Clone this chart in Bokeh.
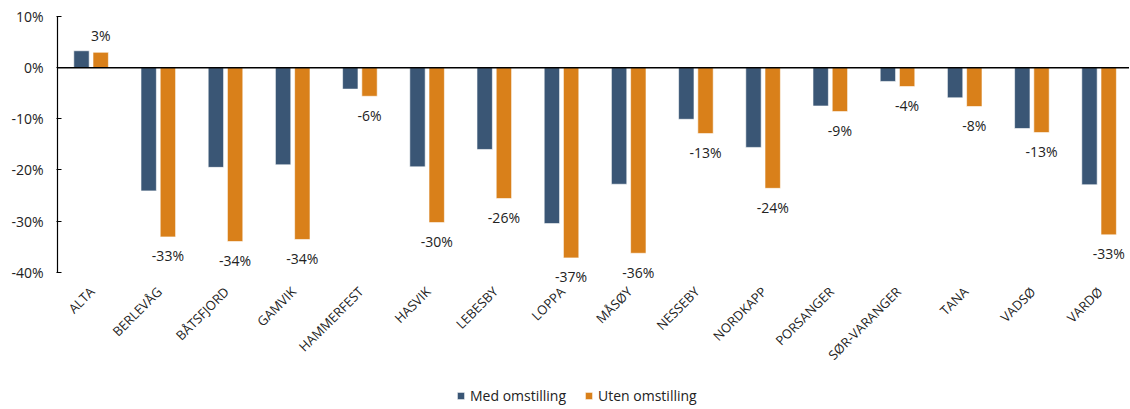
import numpy as np
from bokeh.plotting import figure
from bokeh.models import (ColumnDataSource, Range1d, FixedTicker, Span, Legend,
                          LegendItem, PrintfTickFormatter)
from bokeh.embed import file_html
from bokeh.resources import INLINE
from bokeh.core.properties import value

categories = ["ALTA", "BERLEVÅG", "BÅTSFJORD", "GAMVIK", "HAMMERFEST", "HASVIK",
              "LEBESBY", "LOPPA", "MÅSØY", "NESSEBY", "NORDKAPP", "PORSANGER",
              "SØR-VARANGER", "TANA", "VADSØ", "VARDØ"]
med_omstilling = [3.3, -24.1, -19.5, -19.0, -4.2, -19.4, -16.0, -30.5, -22.8,
                  -10.1, -15.6, -7.5, -2.7, -5.9, -11.9, -22.9]
uten_omstilling = [3.0, -33.1, -34.0, -33.6, -5.6, -30.3, -25.6, -37.2, -36.3,
                   -12.9, -23.6, -8.6, -3.7, -7.6, -12.7, -32.7]
y_ticks = [10, 0, -10, -20, -30, -40]
series_names = ["Med omstilling", "Uten omstilling"]

BLUE = "#3A5675"
ORANGE = "#D9801A"
FONT = "Open Sans"
TEXT = "#222222"

n = len(categories)
centers = np.arange(n) + 0.5
cat_px = 67.2           # pixels per category
px_per_unit = 5.114     # pixels per percentage point
frame_w = 1072
frame_h = 393
dodge = 0.143
bar_w = 0.229
y_top = max(y_ticks)
y_bottom = y_top - frame_h / px_per_unit   # extra room below for category labels + legend

src = ColumnDataSource(dict(
    xm=centers - dodge, xu=centers + dodge,
    med=med_omstilling, uten=uten_omstilling,
    label=[f"{round(v)}%" for v in uten_omstilling],
    yoff=[-17 if v > 0 else 19 for v in uten_omstilling],
))
cat_src = ColumnDataSource(dict(x=centers, y=[min(y_ticks)] * n, name=categories))

p = figure(frame_width=frame_w, frame_height=frame_h,
           x_range=Range1d(0, frame_w / cat_px), y_range=Range1d(y_bottom, y_top),
           output_backend="svg", toolbar_location=None,
           min_border_left=57, min_border_right=0, min_border_top=16,
           min_border_bottom=0)
p.outline_line_color = None
p.xgrid.visible = False
p.ygrid.visible = False
p.background_fill_color = "white"
p.xaxis.visible = False

r1 = p.vbar(x="xm", top="med", bottom=0, width=bar_w, source=src,
            fill_color=BLUE, line_color="white", line_width=0.6)
r2 = p.vbar(x="xu", top="uten", bottom=0, width=bar_w, source=src,
            fill_color=ORANGE, line_color="white", line_width=0.6)

p.add_layout(Span(location=0, dimension="width", line_color="black", line_width=1.5))

# data labels on the "Uten omstilling" bars
p.text(x="xu", y="uten", text="label", y_offset="yoff", source=src,
       text_align="center", text_baseline="middle", text_font=value(FONT),
       text_font_size="14px", text_color=TEXT)

# category labels (rotated, below the lowest tick)
p.text(x="x", y="y", text="name", source=cat_src, angle=np.pi / 4,
       text_align="right", text_baseline="middle", y_offset=17, x_offset=1,
       text_font=value(FONT), text_font_size="13px", text_color=TEXT)

# y axis
p.yaxis.ticker = FixedTicker(ticks=y_ticks)
p.yaxis.bounds = (min(y_ticks), max(y_ticks))
p.yaxis.formatter = PrintfTickFormatter(format="%d%%")
p.yaxis.axis_line_color = "black"
p.yaxis.axis_line_width = 1.2
p.yaxis.major_tick_line_color = "black"
p.yaxis.major_tick_in = 4
p.yaxis.major_tick_out = 1
p.yaxis.minor_tick_line_color = None
p.yaxis.major_label_standoff = 13
p.yaxis.major_label_text_font = FONT
p.yaxis.major_label_text_font_size = "14px"
p.yaxis.major_label_text_color = TEXT

legend = Legend(items=[LegendItem(label=series_names[0], renderers=[r1]),
                       LegendItem(label=series_names[1], renderers=[r2])],
                orientation="horizontal", location=(399, 4),
                glyph_width=9, glyph_height=9, label_text_font=FONT,
                label_text_font_size="14px", label_text_color=TEXT,
                border_line_color=None, background_fill_alpha=0,
                spacing=18, padding=0, margin=0, label_standoff=5)
p.add_layout(legend, "center")

open("out.html", "w").write(file_html(p, INLINE))
